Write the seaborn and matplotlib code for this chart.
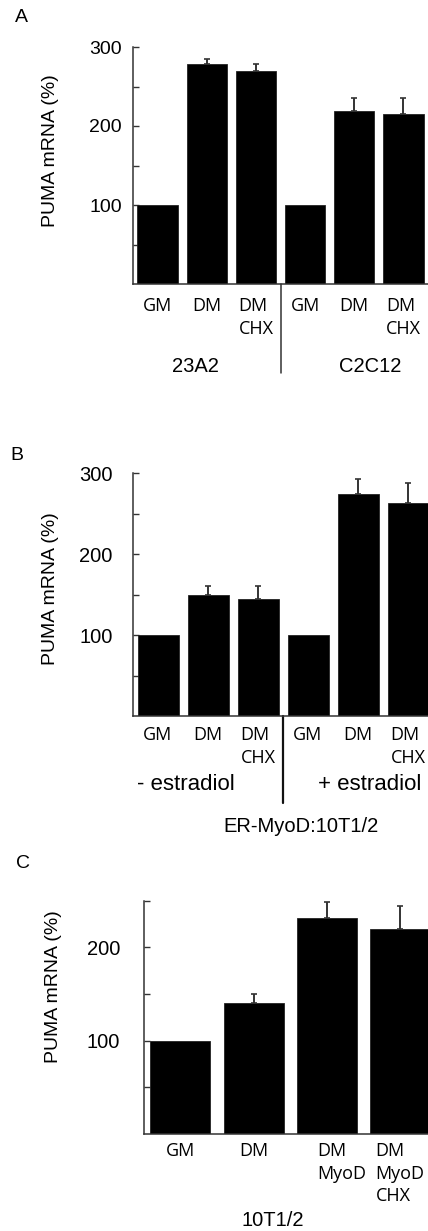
import numpy as np
import matplotlib
matplotlib.use("Agg")
import matplotlib.pyplot as plt
import matplotlib.transforms as mtransforms
import seaborn as sns

# panel A: 23A2 and C2C12 cells
a_labels = ["GM", "DM", "DM\nCHX", "GM", "DM", "DM\nCHX"]
a_values = [100, 279, 269, 100, 219, 215]
a_err = [0, 6, 10, 0, 17, 20]

# panel B: ER-MyoD:10T1/2, - / + estradiol
b_labels = ["GM", "DM", "DM\nCHX", "GM", "DM", "DM\nCHX"]
b_values = [100, 150, 144, 100, 274, 263]
b_err = [0, 10, 16, 0, 19, 25]

# panel C: 10T1/2
c_labels = ["GM", "DM", "DM\nMyoD", "DM\nMyoD\nCHX"]
c_values = [100, 140, 231, 220]
c_err = [0, 10.5, 18, 24]

sns.set_theme(style="white")
plt.rcParams["font.family"] = ["Liberation Sans", "DejaVu Sans"]
plt.rcParams["text.color"] = "black"
plt.rcParams["axes.labelcolor"] = "black"
plt.rcParams["xtick.color"] = "black"
plt.rcParams["ytick.color"] = "black"

W, H = 428, 1231
fig = plt.figure(figsize=(W / 100, H / 100), dpi=100)


def px_axes(left, top, right, bottom):
    return fig.add_axes([left / W, 1 - bottom / H, (right - left) / W, (bottom - top) / H])


def px_text(x, y, s, size, **kw):
    fig.text(x / W, 1 - y / H, s, fontsize=size, ha="center", va="center", **kw)


def draw_panel(ax, labels, values, err, ymax, yticks, ylabels, ysize, ypad, xpad):
    pos = np.arange(len(values))
    sns.barplot(x=pos, y=values, color="black", saturation=1, width=0.82,
                edgecolor="#222222", linewidth=0.6, ax=ax)
    centers = np.array([p.get_x() + p.get_width() / 2 for p in ax.patches])
    e = np.array(err, dtype=float)
    m = e > 0
    ax.errorbar(centers[m], np.array(values)[m], yerr=[np.zeros(m.sum()), e[m]],
                fmt="none", ecolor="#333333", elinewidth=1.4, capsize=2.2, capthick=1.2)
    ax.set_xlim(-0.5, len(values) - 0.5)
    ax.set_ylim(0, ymax)
    ax.set_yticks(yticks)
    ax.set_yticklabels(ylabels, fontsize=ysize)
    ax.set_xticks(pos)
    ax.set_xticklabels(labels, fontsize=13, family=["Open Sans", "DejaVu Sans"],
                       linespacing=1.35)
    for t in ax.get_xticklabels():
        t.set_verticalalignment("top")
        t.set_multialignment("left")
    ax.tick_params(axis="y", left=True, direction="in", length=4, width=1,
                   color="#333333", pad=ypad)
    ax.tick_params(axis="x", bottom=False, length=0, pad=xpad)
    sns.despine(ax=ax)
    for s in ("left", "bottom"):
        ax.spines[s].set_color("#333333")
        ax.spines[s].set_linewidth(1.1)
    ax.set_xlabel("")
    ax.set_ylabel("")
    ax.set_facecolor("white")


# Panel A
ax_a = px_axes(133, 47, 428, 284)
draw_panel(ax_a, a_labels, a_values, a_err, 300, [50, 100, 150, 200, 250, 300],
           ["", "100", "", "200", "", "300"], 14, 8, 9.5)
ax_a.axvline(2.5, ymin=-0.375, ymax=0, color="#333333", lw=1.1, clip_on=False)
ax_a.set_ylabel("PUMA mRNA (%)", fontsize=14)
ax_a.yaxis.set_label_coords(59 / W, 1 - 151 / H, transform=fig.transFigure)
px_text(21, 18, "A", 14)
px_text(195, 367, "23A2", 14.5)
px_text(370, 367, "C2C12", 14.5)

# Panel B
ax_b = px_axes(133, 473, 433, 716)
draw_panel(ax_b, b_labels, b_values, b_err, 300, [50, 100, 150, 200, 250, 300],
           ["", "100", "", "200", "", "300"], 14.5, 14.5, 7.5)
ax_b.axvline(2.5, ymin=-0.358, ymax=0, color="#111111", lw=1.6, clip_on=False)
ax_b.set_ylabel("PUMA mRNA (%)", fontsize=14)
ax_b.yaxis.set_label_coords(59 / W, 1 - 589 / H, transform=fig.transFigure)
px_text(17, 455, "B", 14)
px_text(186, 784, "- estradiol", 16)
px_text(370, 784, "+ estradiol", 16)
px_text(301, 827, "ER-MyoD:10T1/2", 14.5)

# Panel C
ax_c = px_axes(143.7, 900.7, 436.6, 1134)
draw_panel(ax_c, c_labels, c_values, c_err, 250, [50, 100, 150, 200, 250],
           ["", "100", "", "200", ""], 14.5, 17, 5.5)
shift = mtransforms.ScaledTranslation(15 / 100, 0, fig.dpi_scale_trans)
lab3 = ax_c.get_xticklabels()[2]
lab3.set_transform(lab3.get_transform() + shift)
ax_c.set_ylabel("PUMA mRNA (%)", fontsize=14)
ax_c.yaxis.set_label_coords(62 / W, 1 - 987 / H, transform=fig.transFigure)
px_text(23, 863, "C", 14)
px_text(273, 1220, "10T1/2", 14.5)

fig.savefig("out.png", dpi=100, facecolor="white")
